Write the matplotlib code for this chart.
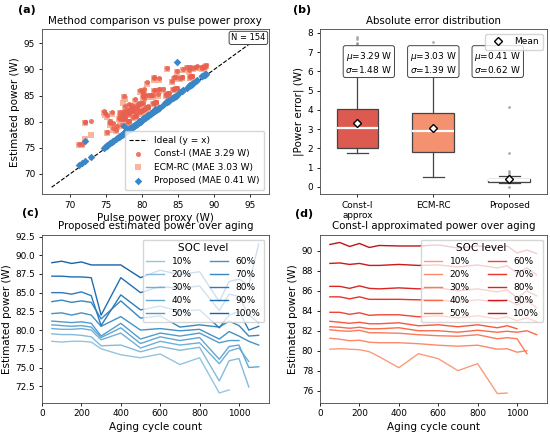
import numpy as np
import matplotlib
matplotlib.use("Agg")
import matplotlib.pyplot as plt
from matplotlib.lines import Line2D

nan = np.nan

cycles = [50, 100, 150, 200, 250, 300, 400, 500, 600, 700, 800, 900, 950, 1000, 1050, 1100]
soc_levels = ["10%", "20%", "30%", "40%", "50%", "60%", "70%", "80%", "90%", "100%"]

# pulse power proxy (W), one row per SOC level
proxy_w = [
    [78.15, 78.05, 78.1, 78.2, 78.05, 77.15, 76.35, 75.95, 76.45, 75.1, 75.95, 71.2, 71.65, nan, nan, nan],
    [79.15, 79.05, 79.1, 78.95, 78.75, 77.55, 77.65, 76.75, 77.45, 76.95, 77.35, 72.85, 75.55, 72.0, 72.05, nan],
    [79.85, 79.75, 79.8, 79.85, 79.65, 78.35, 79.25, 77.25, 78.15, 77.65, 77.95, 75.15, 76.85, 77.25, 75.45, nan],
    [80.35, 80.25, 80.15, 80.25, 80.05, 78.65, 79.95, 77.85, 78.75, 78.25, 78.65, 75.75, 77.45, 77.65, 74.65, 74.75],
    [80.85, 80.75, 80.65, 80.75, 80.55, 78.85, 80.55, 78.45, 79.25, 78.85, 79.25, 77.95, 78.25, 78.25, nan, 76.95],
    [81.85, 81.95, 81.65, 81.95, 81.65, 80.15, 81.45, 79.65, 79.55, 79.55, 79.75, 78.45, 79.45, 78.85, 78.15, 77.65],
    [83.45, 83.65, 83.35, 83.55, 83.35, 81.15, 83.55, 81.25, 81.55, 80.05, 80.35, 80.05, 80.85, 80.25, 77.45, 78.95],
    [84.65, 84.65, 84.45, 84.75, 84.25, 80.25, 84.35, 82.35, 82.85, 81.75, 82.35, 79.95, 81.65, 82.15, 79.65, 80.15],
    [86.85, 86.85, 86.75, 86.75, 86.65, 81.65, 86.65, 84.65, 85.45, 85.25, 85.55, 82.25, 84.45, 84.15, 81.65, 80.65],
    [88.65, 88.85, 88.55, 88.75, 88.35, 88.35, 88.35, 86.65, 87.65, 87.05, 87.45, 83.45, 86.15, 86.45, 85.65, 84.8],
]

# proposed estimate (W)
proposed_w = [
    [78.5, 78.4, 78.5, 78.5, 78.4, 77.5, 76.7, 76.3, 76.8, 75.4, 76.3, 71.6, 72.0, nan, nan, nan],
    [79.5, 79.4, 79.4, 79.3, 79.1, 77.9, 78.0, 77.1, 77.8, 77.3, 77.7, 73.2, 75.9, 76.2, 72.4, nan],
    [80.2, 80.1, 80.1, 80.2, 80.0, 78.7, 79.6, 77.6, 78.5, 78.0, 78.3, 75.5, 77.2, 77.6, 75.8, nan],
    [80.7, 80.6, 80.5, 80.6, 80.4, 79.0, 80.3, 78.2, 79.1, 78.6, 79.0, 76.1, 77.8, 78.0, 75.0, 75.1],
    [81.2, 81.1, 81.0, 81.1, 80.9, 79.2, 80.9, 78.8, 79.6, 79.2, 79.6, 78.3, 78.6, 78.6, nan, 77.3],
    [82.2, 82.3, 82.0, 82.3, 82.0, 80.5, 81.8, 80.0, 80.2, 79.9, 80.1, 78.8, 79.8, 79.2, 78.5, 78.0],
    [83.8, 84.0, 83.7, 83.9, 83.7, 81.5, 83.9, 81.6, 81.9, 80.4, 80.7, 80.4, 81.2, 80.6, 79.2, 79.3],
    [85.0, 85.0, 84.8, 85.1, 84.6, 80.6, 84.7, 82.7, 83.2, 82.5, 82.7, 80.3, 82.0, 82.5, 80.0, 80.5],
    [87.2, 87.2, 87.1, 87.1, 87.0, 82.0, 87.0, 85.0, 85.8, 85.6, 85.9, 82.6, 84.8, 84.5, 82.0, 81.0],
    [89.0, 89.2, 88.9, 89.1, 88.7, 88.7, 88.7, 87.0, 88.0, 87.4, 87.8, 83.8, 86.5, 86.8, 86.0, 91.5],
]

# constant-current approximation (W)
const_i_w = [
    [80.15, 80.2, 80.15, 80.1, 79.9, 79.4, 78.3, 79.7, 79.2, 78.0, 78.7, 75.7, 75.75, nan, nan, nan],
    [81.25, 81.15, 81.0, 81.05, 80.85, 80.8, 80.8, 80.7, 80.55, 80.45, 80.55, 80.15, 80.2, 79.85, 80.0, nan],
    [82.1, 82.0, 81.95, 82.05, 81.8, 81.8, 81.75, 81.6, 81.5, 81.45, 81.6, 81.2, 81.3, 81.2, 79.7, nan],
    [82.4, 82.35, 82.25, 82.35, 82.2, 82.2, 82.3, 82.0, 82.0, 81.85, 82.05, 81.85, 81.95, 81.85, 82.0, 81.6],
    [82.95, 82.85, 82.75, 82.85, 82.7, 82.7, 82.8, 82.5, 82.6, 82.4, 82.6, 82.3, 82.5, 82.2, nan, 81.9],
    [83.85, 83.85, 83.65, 83.8, 83.55, 83.6, 83.6, 83.4, 83.5, 83.3, 83.5, 83.2, 83.4, 83.0, 83.3, 82.9],
    [85.4, 85.4, 85.2, 85.4, 85.15, 85.15, 85.15, 85.1, 85.1, 84.9, 85.1, 84.9, 85.1, 84.6, 85.0, 84.3],
    [86.45, 86.45, 86.25, 86.5, 86.25, 86.2, 86.3, 86.2, 86.3, 86.0, 86.2, 85.9, 86.1, 85.3, 86.0, 85.5],
    [88.75, 88.8, 88.65, 88.75, 88.55, 88.55, 88.65, 88.55, 88.6, 88.4, 88.6, 88.3, 88.5, 87.8, 88.3, 87.6],
    [90.65, 90.85, 90.45, 90.75, 90.35, 90.55, 90.5, 90.5, 90.6, 90.3, 90.5, 90.3, 90.5, 89.8, 90.1, 89.75],
]

# ECM-RC estimate (W)
ecm_rc_w = [
    [79.85, 79.95, 79.9, 79.8, 79.7, 79.1, 78.1, 79.4, 79.0, 77.8, 78.4, 75.5, 75.5, nan, nan, nan],
    [81.0, 80.9, 80.8, 80.8, 80.6, 84.3, 80.5, 80.4, 80.3, 80.2, 80.3, 77.5, 79.9, 76.6, 79.7, nan],
    [81.8, 81.7, 81.7, 81.8, 81.5, 81.5, 81.5, 83.5, 81.2, 81.2, 81.3, 80.9, 81.1, 80.9, 79.4, nan],
    [82.1, 82.1, 82.0, 82.1, 81.9, 81.9, 82.0, 81.7, 81.8, 81.6, 81.8, 81.5, 81.7, 81.6, 81.7, 81.3],
    [82.7, 82.6, 82.5, 82.6, 82.4, 82.4, 82.5, 82.3, 82.3, 82.1, 82.3, 82.0, 82.2, 81.9, nan, 81.6],
    [83.6, 83.6, 83.4, 83.5, 83.3, 83.3, 83.4, 83.1, 83.2, 83.0, 83.2, 82.9, 83.1, 82.7, 83.0, 82.6],
    [85.1, 85.1, 84.9, 85.1, 84.9, 84.9, 84.9, 84.8, 84.8, 84.6, 84.8, 84.6, 84.8, 84.3, 84.7, 84.0],
    [86.2, 86.2, 86.0, 86.2, 86.0, 85.9, 86.0, 85.9, 86.0, 85.7, 85.9, 85.6, 85.8, 85.0, 85.7, 85.2],
    [88.5, 88.5, 88.4, 88.5, 88.3, 88.3, 88.4, 88.3, 88.3, 88.1, 88.3, 88.0, 88.2, 87.5, 88.0, 87.3],
    [90.4, 90.6, 90.2, 90.5, 90.1, 90.3, 90.2, 90.2, 90.3, 90.0, 90.2, 90.0, 90.2, 89.5, 89.8, 89.5],
]

# absolute error summary for panel (b)
methods = ["Const-I\napprox", "ECM-RC", "Proposed"]
err_mean = [3.29, 3.03, 0.41]
err_std = [1.48, 1.39, 0.62]
err_q1 = [2.0, 1.81, 0.27]
err_med = [3.04, 2.9, 0.33]
err_q3 = [4.02, 3.83, 0.39]
err_lo = [1.73, 0.53, 0.22]
err_hi = [7.0, 6.9, 0.55]
err_fliers = [[7.22, 7.39, 7.48, 7.65, 7.79],
              [7.1, 7.31, 7.51],
              [0.0, 0.63, 0.72, 0.8, 1.75, 4.13]]

# the figure looks like a bigger one shrunk down, so ticks / pads are scaled too
plt.rcParams.update({"font.size": 6.5, "axes.titlesize": 7.4, "axes.labelsize": 7.5,
                     "xtick.labelsize": 6.4, "ytick.labelsize": 6.4,
                     "legend.fontsize": 6.5, "axes.edgecolor": "#444444",
                     "axes.linewidth": 0.6, "axes.labelpad": 2.6, "axes.titlepad": 4,
                     "xtick.major.size": 2.3, "ytick.major.size": 2.3,
                     "xtick.major.width": 0.6, "ytick.major.width": 0.6,
                     "xtick.major.pad": 2.3, "ytick.major.pad": 2.3})

fig = plt.figure(figsize=(5.5, 4.32), dpi=100)
ax_a = fig.add_axes([0.0755, 0.5502, 0.4136, 0.382])
ax_b = fig.add_axes([0.581, 0.5502, 0.4136, 0.382])
ax_c = fig.add_axes([0.0755, 0.067, 0.4136, 0.389])
ax_d = fig.add_axes([0.581, 0.067, 0.4136, 0.389])

prx = np.array(proxy_w).ravel()
prop = np.array(proposed_w).ravel()
cst = np.array(const_i_w).ravel()
ecm = np.array(ecm_rc_w).ravel()
ok = ~np.isnan(prx)

# (a)
ax_a.plot([67.4, 96.4], [67.4, 96.4], "k--", lw=0.8, label="Ideal (y = x)", zorder=1)
ax_a.scatter(prx[ok], cst[ok], s=13, marker="o", color="#e8604f", alpha=0.85, lw=0,
             label=f"Const-I (MAE {err_mean[0]:.2f} W)", zorder=3)
ax_a.scatter(prx[ok], ecm[ok], s=13, marker="s", color="#f7a98e", alpha=0.85, lw=0,
             label=f"ECM-RC (MAE {err_mean[1]:.2f} W)", zorder=2)
ax_a.scatter(prx[ok], prop[ok], s=15, marker="D", color="#3a87c8", lw=0,
             label=f"Proposed (MAE {err_mean[2]:.2f} W)", zorder=4)
ax_a.set_xlim(66.0, 97.6)
ax_a.set_ylim(66.05, 97.7)
ax_a.set_xticks([70, 75, 80, 85, 90, 95])
ax_a.set_yticks([70, 75, 80, 85, 90, 95])
ax_a.set_xlabel("Pulse power proxy (W)")
ax_a.set_ylabel("Estimated power (W)")
ax_a.set_title("Method comparison vs pulse power proxy")
ax_a.legend(loc="lower right", handlelength=2.0, borderpad=0.5, labelspacing=0.5)
ax_a.text(0.985, 0.975, f"N = {ok.sum()}", transform=ax_a.transAxes, ha="right", va="top",
          fontsize=6, bbox=dict(boxstyle="round,pad=0.25", fc="white", ec="#444444", lw=0.7))

# (b)
box_colors = ["#dd5a50", "#f4916f", "#f2f6fb"]
stats = []
for i in range(3):
    stats.append(dict(med=err_med[i], q1=err_q1[i], q3=err_q3[i], whislo=err_lo[i],
                      whishi=err_hi[i], mean=err_mean[i], fliers=err_fliers[i]))
bp = ax_b.bxp(stats, positions=[1, 2, 3], widths=0.55, patch_artist=True, showmeans=True,
              medianprops=dict(color="white", lw=1.6),
              whiskerprops=dict(color="#444444", lw=0.9),
              capprops=dict(color="#444444", lw=0.9),
              boxprops=dict(edgecolor="#444444", lw=0.9),
              meanprops=dict(marker="D", markerfacecolor="white", markeredgecolor="black",
                             markersize=4.5),
              flierprops=dict(marker="o", markersize=2, markerfacecolor="#888888",
                              markeredgecolor="none", alpha=0.7))
for patch, c in zip(bp["boxes"], box_colors):
    patch.set_facecolor(c)
ax_b.set_xticks([1, 2, 3])
ax_b.set_xticklabels(methods)
ax_b.set_xlim(0.5, 3.5)
ax_b.set_yticks(range(0, 9))
ax_b.set_ylabel("|Power error| (W)")
ax_b.set_title("Absolute error distribution")
for xpos, m, s in zip([1.15, 2.0, 2.85], err_mean, err_std):
    ax_b.text(xpos, 6.45, f"$\\mu$={m:.2f} W\n$\\sigma$={s:.2f} W", ha="center", va="center",
              fontsize=6.5, linespacing=1.15,
              bbox=dict(boxstyle="round,pad=0.25", fc="white", ec="#444444", lw=0.7))
mean_handle = Line2D([], [], ls="none", marker="D", markerfacecolor="white",
                     markeredgecolor="black", markersize=4.5)
ax_b.legend([mean_handle], ["Mean"], loc="upper right")

# (c) and (d)
blues = plt.cm.Blues(np.linspace(0.4, 0.8, len(soc_levels)))
reds = plt.cm.Reds(np.linspace(0.35, 0.8, len(soc_levels)))
for i, soc in enumerate(soc_levels):
    ax_c.plot(cycles, proposed_w[i], color=blues[i], lw=1.0, label=soc)
    ax_d.plot(cycles, const_i_w[i], color=reds[i], lw=1.0, label=soc)

ax_c.set_ylim(70.25, 92.7)
ax_c.set_yticks([72.5, 75.0, 77.5, 80.0, 82.5, 85.0, 87.5, 90.0, 92.5])
ax_c.set_title("Proposed estimated power over aging")
ax_d.set_ylim(74.75, 91.6)
ax_d.set_yticks([76, 78, 80, 82, 84, 86, 88, 90])
ax_d.set_title("Const-I approximated power over aging")
for ax in (ax_c, ax_d):
    ax.set_xlim(-2.5, 1152.5)
    ax.set_xticks([0, 200, 400, 600, 800, 1000])
    ax.set_xlabel("Aging cycle count")
    ax.set_ylabel("Estimated power (W)")
    ax.legend(title="SOC level", ncol=2, loc="upper right", title_fontsize=7.5,
              labelspacing=0.45)

for txt, x, y in [("(a)", 0.033, 0.977), ("(b)", 0.533, 0.977),
                  ("(c)", 0.040, 0.507), ("(d)", 0.536, 0.504)]:
    fig.text(x, y, txt, fontsize=8, fontweight="bold", va="center")

fig.savefig("out.png", dpi=100)
